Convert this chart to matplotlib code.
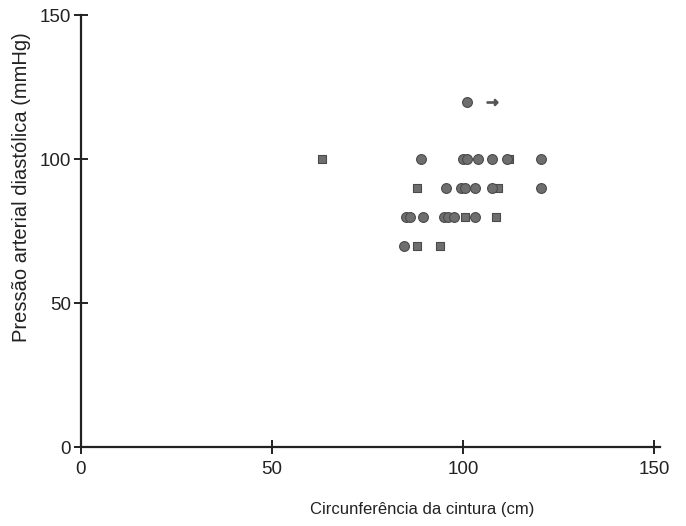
import matplotlib.pyplot as plt

plt.rcParams['font.family'] = ['Liberation Sans', 'DejaVu Sans']

# circulos
circ_x = [101, 89, 100, 101, 104, 107.5, 111.5, 120.5,
          95.5, 99.5, 100.5, 103, 107.5, 120.5,
          85, 86, 89.5, 95, 96, 97.5, 103, 84.5]
circ_y = [120, 100, 100, 100, 100, 100, 100, 100,
          90, 90, 90, 90, 90, 90,
          80, 80, 80, 80, 80, 80, 80, 70]
# quadrados
quad_x = [63, 112, 88, 109, 100.5, 108.5, 88, 94]
quad_y = [100, 100, 90, 90, 80, 80, 70, 70]
# seta
seta_x = [107.5]
seta_y = [120]

cor = '#6e6e6e'
fig = plt.figure(figsize=(6.86, 5.26), dpi=100)
ax = fig.add_axes([0.118, 0.150, 0.844, 0.821])
ax.scatter(quad_x, quad_y, marker='s', s=30, color=cor, edgecolors='#4a4a4a', linewidths=0.8, zorder=3)
ax.scatter(circ_x, circ_y, marker='o', s=50, color=cor, edgecolors='#4a4a4a', linewidths=0.8, zorder=3)
ax.scatter(seta_x, seta_y, marker=r'$\rightarrow$', s=60, color='#555555', zorder=3)

ax.set_xlim(0, 151.5)
ax.set_ylim(0, 150)
ax.set_xticks([0, 50, 100, 150])
ax.set_yticks([0, 50, 100, 150])
for s in ['top', 'right']:
    ax.spines[s].set_visible(False)
for s in ['left', 'bottom']:
    ax.spines[s].set_linewidth(1.6)
    ax.spines[s].set_color('#222222')
ax.tick_params(direction='inout', length=10, width=1.4, colors='#222222', labelsize=13.5, pad=2)
ax.tick_params(axis='x', pad=5)

fig.text(0.615, 0.022, 'Circunferência da cintura (cm)', ha='center', fontsize=12, color='#222222')
fig.text(0.032, 0.644, 'Pressão arterial diastólica (mmHg)', rotation=90, ha='center', va='center', fontsize=14.5, color='#222222')

plt.savefig('out.png')
